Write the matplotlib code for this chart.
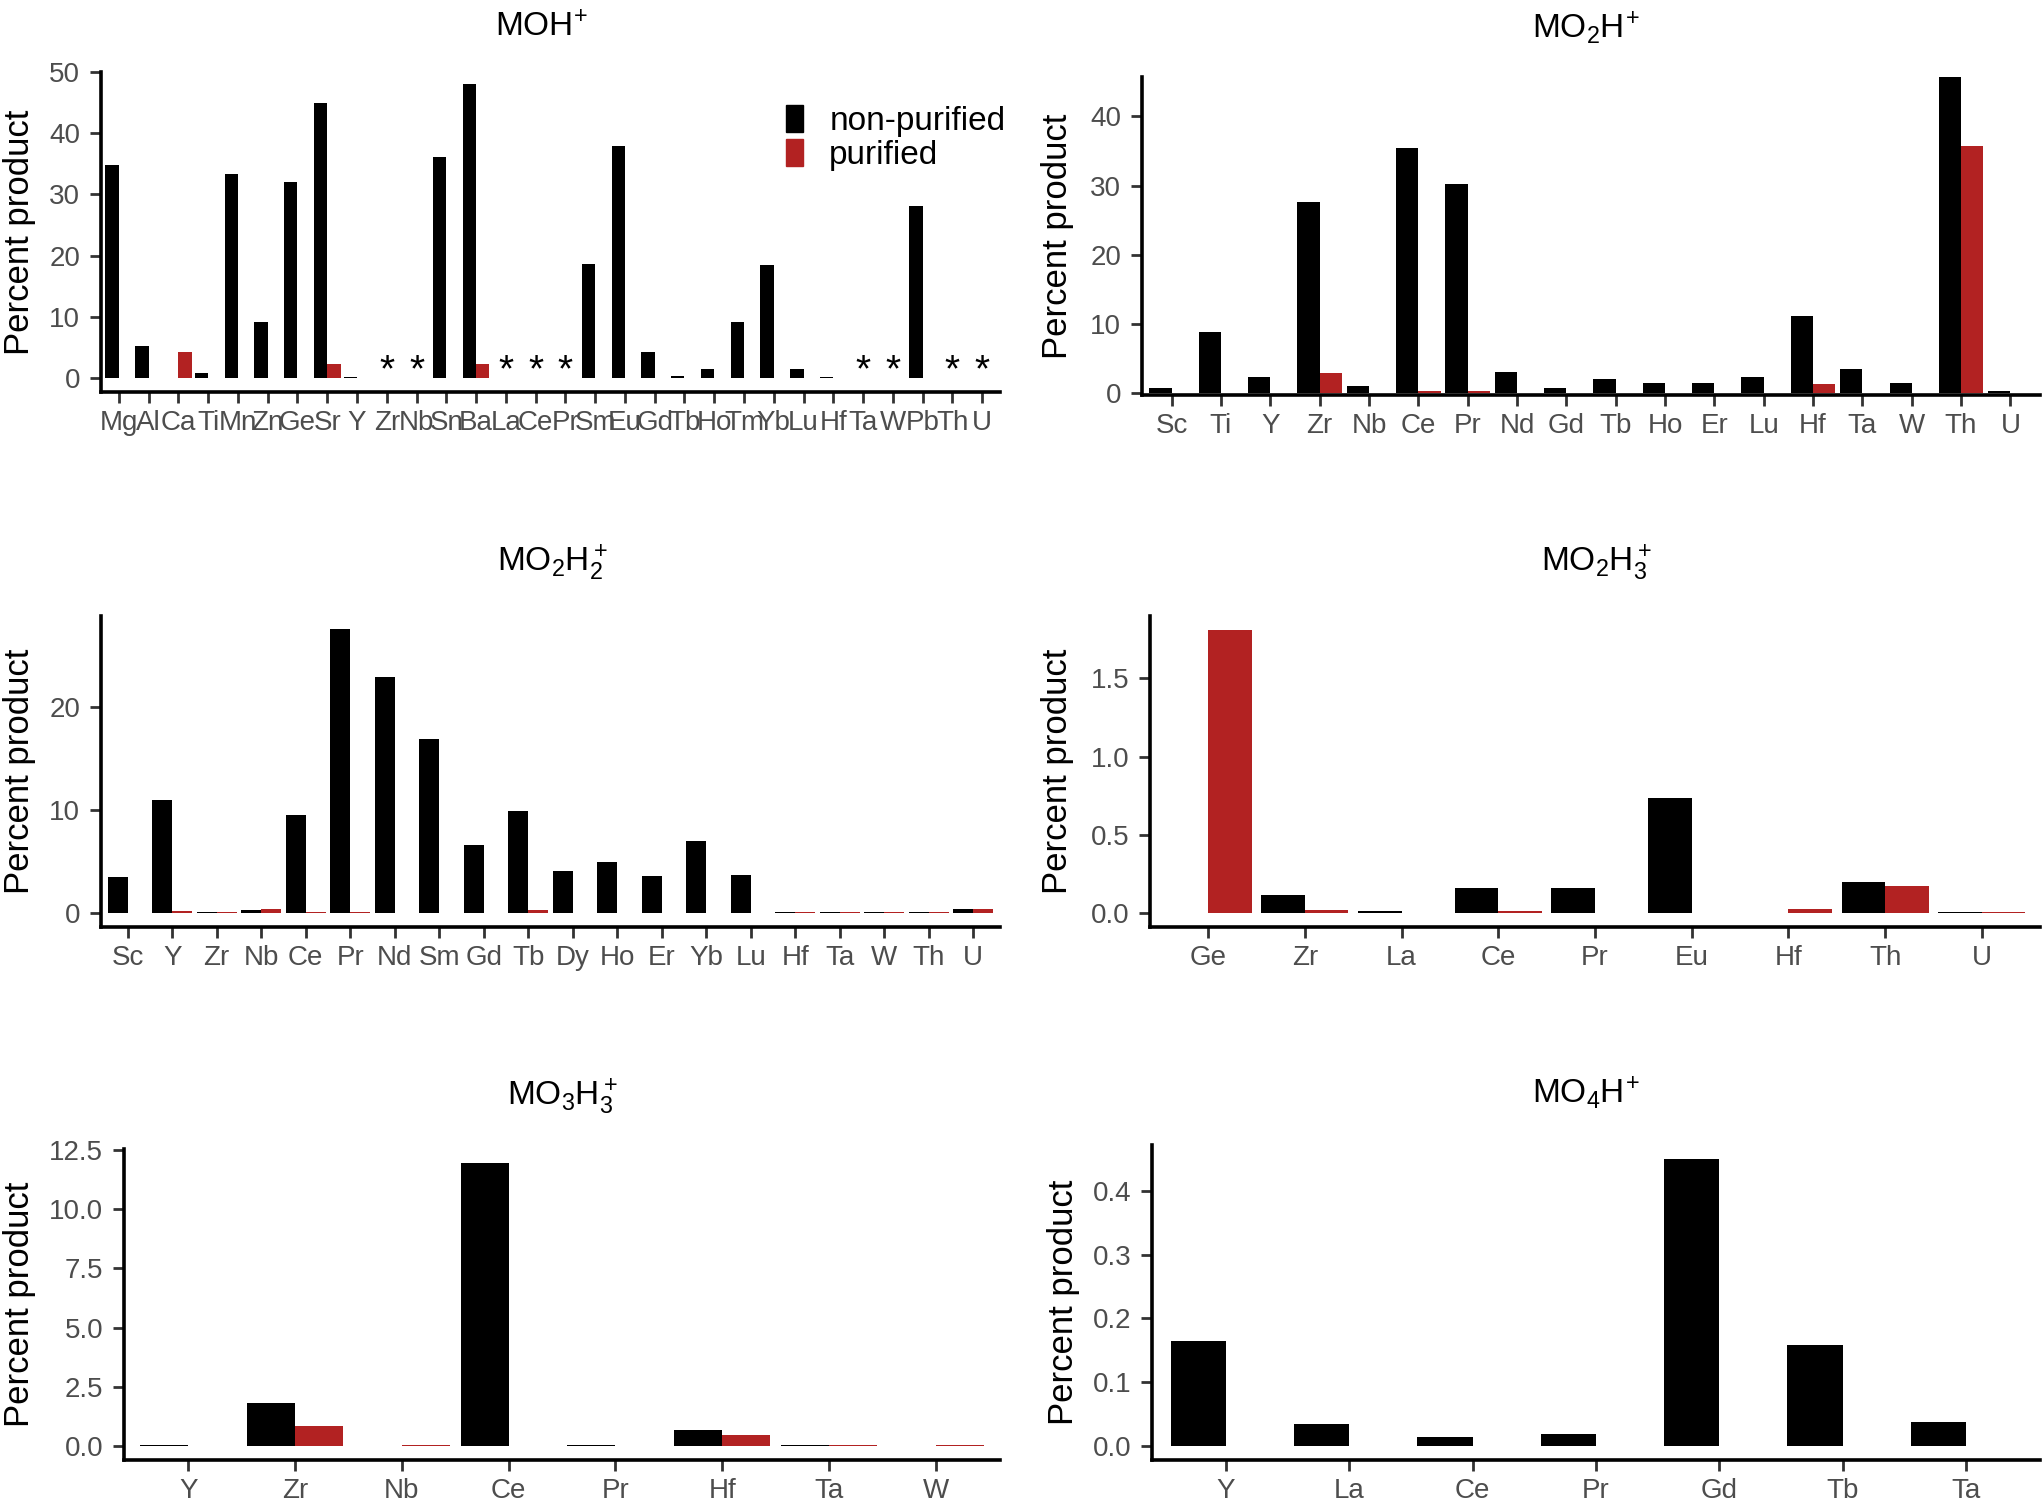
import numpy as np
import matplotlib
matplotlib.use('Agg')
import matplotlib.pyplot as plt
from matplotlib.patches import Patch
from matplotlib.ticker import FormatStrFormatter

plt.rcParams['font.family'] = ['Liberation Sans', 'DejaVu Sans']
plt.rcParams['mathtext.fontset'] = 'custom'
plt.rcParams['mathtext.rm'] = 'Liberation Sans'
plt.rcParams['mathtext.it'] = 'Liberation Sans:italic'
plt.rcParams['mathtext.bf'] = 'Liberation Sans:bold'

nan = np.nan
BLACK = 'black'
RED = '#B22222'

# MOH+
moh_el = ['Mg', 'Al', 'Ca', 'Ti', 'Mn', 'Zn', 'Ge', 'Sr', 'Y', 'Zr', 'Nb', 'Sn', 'Ba', 'La', 'Ce',
          'Pr', 'Sm', 'Eu', 'Gd', 'Tb', 'Ho', 'Tm', 'Yb', 'Lu', 'Hf', 'Ta', 'W', 'Pb', 'Th', 'U']
moh_non = [34.8, 5.2, nan, 0.8, 33.4, 9.1, 32.1, 45.0, 0.15, nan, nan, 36.1, 48.1, nan, nan,
           nan, 18.6, 37.9, 4.3, 0.25, 1.4, 9.2, 18.5, 1.5, 0.15, nan, nan, 28.1, nan, nan]
moh_pur = [nan, nan, 4.2, nan, nan, nan, nan, 2.3, nan, nan, nan, nan, 2.3, nan, nan,
           nan, nan, nan, nan, nan, nan, nan, nan, nan, nan, nan, nan, nan, nan, nan]
moh_star = ['Zr', 'Nb', 'La', 'Ce', 'Pr', 'Ta', 'W', 'Th', 'U']

# MO2H+
mo2h_el = ['Sc', 'Ti', 'Y', 'Zr', 'Nb', 'Ce', 'Pr', 'Nd', 'Gd', 'Tb', 'Ho', 'Er', 'Lu', 'Hf',
           'Ta', 'W', 'Th', 'U']
mo2h_non = [0.7, 8.8, 2.3, 27.6, 1.1, 35.4, 30.3, 3.1, 0.7, 2.1, 1.5, 1.5, 2.4, 11.1,
            3.5, 1.5, 45.7, 0.4]
mo2h_pur = [nan, nan, nan, 2.9, nan, 0.4, 0.35, nan, nan, nan, nan, nan, nan, 1.35,
            nan, nan, 35.7, nan]

# MO2H2+
mo2h2_el = ['Sc', 'Y', 'Zr', 'Nb', 'Ce', 'Pr', 'Nd', 'Sm', 'Gd', 'Tb', 'Dy', 'Ho', 'Er', 'Yb',
            'Lu', 'Hf', 'Ta', 'W', 'Th', 'U']
mo2h2_non = [3.5, 10.9, 0.05, 0.25, 9.5, 27.5, 22.9, 16.9, 6.6, 9.9, 4.0, 4.95, 3.6, 7.0,
             3.65, 0.1, 0.1, 0.05, 0.1, 0.35]
mo2h2_pur = [nan, 0.15, 0.05, 0.35, 0.05, 0.05, nan, nan, nan, 0.25, nan, nan, nan, nan,
             nan, 0.05, 0.1, 0.05, 0.1, 0.35]

# MO2H3+
mo2h3_el = ['Ge', 'Zr', 'La', 'Ce', 'Pr', 'Eu', 'Hf', 'Th', 'U']
mo2h3_non = [nan, 0.113, 0.01, 0.156, 0.16, 0.736, nan, 0.198, 0.005]
mo2h3_pur = [1.81, 0.017, nan, 0.012, nan, nan, 0.022, 0.173, 0.005]

# MO3H3+
mo3h3_el = ['Y', 'Zr', 'Nb', 'Ce', 'Pr', 'Hf', 'Ta', 'W']
mo3h3_non = [0.04, 1.83, nan, 11.94, 0.07, 0.67, 0.07, nan]
mo3h3_pur = [nan, 0.84, 0.04, nan, nan, 0.49, 0.07, 0.04]

# MO4H+
mo4h_el = ['Y', 'La', 'Ce', 'Pr', 'Gd', 'Tb', 'Ta']
mo4h_non = [0.165, 0.0345, 0.0136, 0.0183, 0.450, 0.158, 0.0366]
mo4h_pur = [nan, nan, nan, nan, nan, nan, nan]

W, H = 2042, 1511
fig = plt.figure(figsize=(W / 100, H / 100), dpi=100)


def px_axes(x0, y0, x1, y1):
    # pixel box (left, top, right, bottom) -> axes
    return fig.add_axes([x0 / W, 1 - y1 / H, (x1 - x0) / W, (y1 - y0) / H])


def panel(ax, el, non, pur, ylim, yticks, fmt=None):
    x = np.arange(len(el))
    ax.bar(x - 0.225, non, width=0.45, color=BLACK)
    ax.bar(x + 0.225, pur, width=0.45, color=RED)
    ax.set_xlim(-0.6, len(el) - 0.4)
    ax.set_ylim(*ylim)
    ax.set_xticks(x)
    ax.set_xticklabels(el)
    ax.set_yticks(yticks)
    if fmt:
        ax.yaxis.set_major_formatter(FormatStrFormatter(fmt))
    for s in ['top', 'right']:
        ax.spines[s].set_visible(False)
    for s in ['left', 'bottom']:
        ax.spines[s].set_linewidth(2.6)
    ax.tick_params(length=8, width=2.0, color='#333333', labelsize=20,
                   labelcolor='#4D4D4D')
    ax.tick_params(axis='x', pad=5)
    ax.tick_params(axis='y', pad=7)
    return x


def title(text, x, y):
    fig.text(x / W, 1 - y / H, text, ha='center', va='center', fontsize=24)


def ylab(x, ax):
    b = ax.get_position()
    fig.text(x / W, (b.y0 + b.y1) / 2, 'Percent product', rotation=90,
             ha='center', va='center', fontsize=25)


# MOH+
ax1 = px_axes(101, 72, 1000, 392)
x1 = panel(ax1, moh_el, moh_non, moh_pur, (-2.3, 50), np.arange(0, 51, 10))
for i, e in enumerate(moh_el):
    if e in moh_star:
        ax1.text(x1[i], 1.0, '*', ha='center', va='center', fontsize=28)
title(r'$\mathrm{MOH^{\!+}}$', 542, 28)
ylab(20, ax1)
ax1.legend(handles=[Patch(color=BLACK, label='non-purified'),
                    Patch(color=RED, label='purified')],
           loc='upper left', bbox_to_anchor=(786 / W, 1 - 105 / H),
           bbox_transform=fig.transFigure, frameon=False, fontsize=24,
           handlelength=0.5, handleheight=0.85, handletextpad=0.8,
           labelspacing=0.08, borderpad=0, borderaxespad=0)

# MO2H+
ax2 = px_axes(1142, 77, 2040, 395)
panel(ax2, mo2h_el, mo2h_non, mo2h_pur, (-0.25, 45.7), np.arange(0, 41, 10))
title(r'$\mathrm{MO_2H^{\!+}}$', 1586, 28)
ylab(1058, ax2)

# MO2H2+
ax3 = px_axes(101, 616, 1000, 927)
panel(ax3, mo2h2_el, mo2h2_non, mo2h2_pur, (-1.39, 28.8), [0, 10, 20])
title(r'$\mathrm{MO_2H_2^+}$', 552, 563)
ylab(20, ax3)

# MO2H3+
ax4 = px_axes(1150, 616, 2040, 927)
panel(ax4, mo2h3_el, mo2h3_non, mo2h3_pur, (-0.091, 1.90), [0, 0.5, 1.0, 1.5], '%.1f')
title(r'$\mathrm{MO_2H_3^+}$', 1596, 563)
ylab(1058, ax4)

# MO3H3+
ax5 = px_axes(124, 1149, 1000, 1460)
panel(ax5, mo3h3_el, mo3h3_non, mo3h3_pur, (-0.58, 12.54), np.arange(0, 12.6, 2.5), '%.1f')
title(r'$\mathrm{MO_3H_3^+}$', 562, 1097)
ylab(20, ax5)

# MO4H+
ax6 = px_axes(1152, 1145, 2040, 1460)
panel(ax6, mo4h_el, mo4h_non, mo4h_pur, (-0.0225, 0.4725), [0, 0.1, 0.2, 0.3, 0.4], '%.1f')
title(r'$\mathrm{MO_4H^{\!+}}$', 1586, 1093)
ylab(1063, ax6)

fig.savefig('out.png', dpi=100)
